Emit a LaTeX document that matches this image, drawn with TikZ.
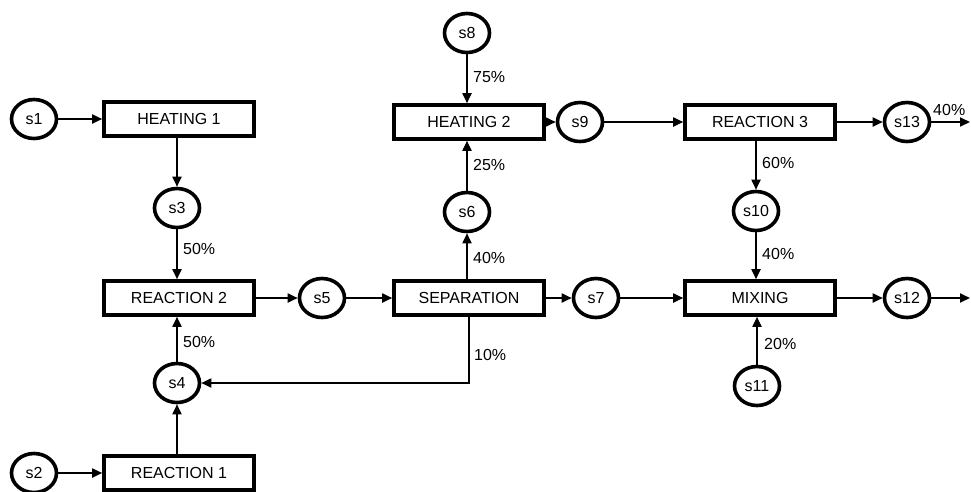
\documentclass[tikz,border=0pt]{standalone}
\usepackage{fontspec}
\setmainfont{Liberation Sans}
\usetikzlibrary{shapes.geometric,arrows.meta}
\begin{document}
\begin{tikzpicture}[x=1pt,y=-1pt,
  stream/.style={ellipse,draw,line width=3.6pt,minimum width=45pt,minimum height=39pt,inner sep=0pt,font=\fontsize{16}{19}\selectfont},
  unit/.style={rectangle,draw,line width=3.6pt,minimum width=150pt,minimum height=34pt,inner sep=0pt,font=\fontsize{16}{19}\selectfont},
  flow/.style={line width=1.8pt,-{Triangle[length=10pt,width=9pt]}},
  pct/.style={anchor=west,inner sep=0pt,font=\fontsize{16}{19}\selectfont}]
\useasboundingbox (0,0) rectangle (971,491);
% units
\node[unit] (H1) at (179,119) {HEATING 1};
\node[unit] (R2) at (179,298) {REACTION 2};
\node[unit] (R1) at (179,473) {REACTION 1};
\node[unit] (H2) at (469,122) {HEATING 2};
\node[unit] (SEP) at (469,298) {SEPARATION};
\node[unit] (R3) at (760,122) {REACTION 3};
\node[unit] (MIX) at (760,298) {MIXING};
% streams
\node[stream] (s1) at (34,119) {s1};
\node[stream] (s2) at (34,473) {s2};
\node[stream] (s3) at (177,208) {s3};
\node[stream] (s4) at (177,383) {s4};
\node[stream] (s5) at (322,298) {s5};
\node[stream] (s6) at (467,212) {s6};
\node[stream] (s7) at (596,298) {s7};
\node[stream] (s8) at (467,33) {s8};
\node[stream] (s9) at (580,122) {s9};
\node[stream] (s10) at (756,211) {s10};
\node[stream] (s11) at (757,386) {s11};
\node[stream] (s12) at (907,298) {s12};
\node[stream] (s13) at (907,122) {s13};
\coordinate (out13) at (970,122);
\coordinate (out12) at (970,298);
% connectors
\draw[flow] (s1) -- (H1);
\draw[flow] (s3 |- H1.south) -- (s3);
\draw[flow] (s3) -- (s3 |- R2.north);
\draw[flow] (s4) -- (s4 |- R2.south);
\draw[flow] (s4 |- R1.north) -- (s4);
\draw[flow] (s2) -- (R1);
\draw[flow] (R2) -- (s5);
\draw[flow] (s5) -- (SEP);
\draw[flow] (s6 |- SEP.north) -- (s6);
\draw[flow] (s6) -- (s6 |- H2.south);
\draw[flow] (s8) -- (s8 |- H2.north);
\draw[flow] (H2) -- (s9);
\draw[flow] (s9) -- (R3);
\draw[flow] (R3) -- (s13);
\draw[flow] (s13) -- (out13);
\draw[flow] (s10 |- R3.south) -- (s10);
\draw[flow] (s10) -- (s10 |- MIX.north);
\draw[flow] (s11) -- (s11 |- MIX.south);
\draw[flow] (SEP) -- (s7);
\draw[flow] (s7) -- (MIX);
\draw[flow] (MIX) -- (s12);
\draw[flow] (s12) -- (out12);
\draw[flow] (SEP.south) |- (s4);
% labels
\node[pct] (p75) at (473,77) {75\%};
\node[pct] (p25) at (473,165) {25\%};
\node[pct] (p40a) at (473,258) {40\%};
\node[pct] (p10) at (474,355) {10\%};
\node[pct] (p50a) at (183,249) {50\%};
\node[pct] (p50b) at (183,342) {50\%};
\node[pct] (p60) at (762,163) {60\%};
\node[pct] (p40b) at (762,254) {40\%};
\node[pct] (p20) at (764,344) {20\%};
\node[pct] (p40c) at (933,110) {40\%};
\end{tikzpicture}
\end{document}
